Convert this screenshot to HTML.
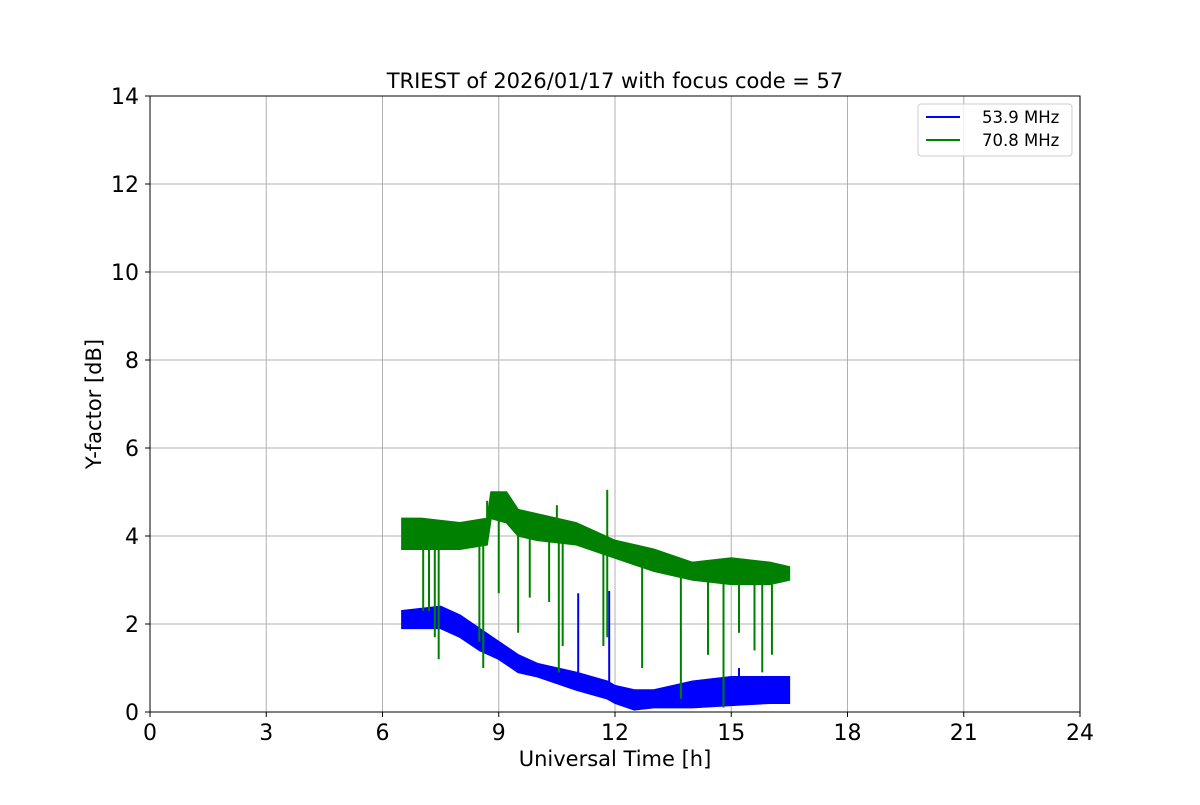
<!DOCTYPE html>
<html><head><meta charset="utf-8"><style>
body{margin:0;background:#fff}
text{font-family:"DejaVu Sans","Liberation Sans",sans-serif}
</style></head><body>
<svg id="c" width="1200" height="800" xmlns="http://www.w3.org/2000/svg">
<rect width="1200" height="800" fill="#fff"/>
<g id="grid"></g>
<g id="series"></g>
<rect x="150" y="96" width="930" height="616" fill="none" stroke="#000" stroke-width="1"/>
<g id="ticks"></g>
<text x="615" y="88" text-anchor="middle" font-size="21">TRIEST of 2026/01/17 with focus code = 57</text>
<text x="615" y="766" text-anchor="middle" font-size="21">Universal Time [h]</text>
<text x="101" y="404" text-anchor="middle" font-size="21" transform="rotate(-90 101 404)">Y-factor [dB]</text>
<g>
<rect x="918" y="104" width="154" height="52" rx="3" fill="#fff" fill-opacity="0.8" stroke="#ccc"/>
<line x1="926" y1="117" x2="960" y2="117" stroke="#0000ff" stroke-width="2"/>
<text x="982" y="123" font-size="16.5">53.9 MHz</text>
<line x1="926" y1="140" x2="960" y2="140" stroke="#008000" stroke-width="2"/>
<text x="982" y="146" font-size="16.5">70.8 MHz</text>
</g>
</svg>
<script>
const xTicks=[0,3,6,9,12,15,18,21,24];
const yTicks=[0,2,4,6,8,10,12,14];
const greenT=[6.5,7,8,8.7,8.8,9.2,9.5,10,11,12,13,14,15,16,16.5];
const greenLo=[3.7,3.7,3.7,3.8,4.4,4.3,4.0,3.9,3.8,3.5,3.2,3.0,2.9,2.9,3.0];
const greenHi=[4.4,4.4,4.3,4.4,5.0,5.0,4.6,4.5,4.3,3.9,3.7,3.4,3.5,3.4,3.3];
const greenSpikeT=[7.05,7.2,7.35,7.45,8.5,8.6,9.0,9.5,9.8,10.3,10.55,10.65,11.7,11.8,12.7,13.7,14.4,14.8,15.2,15.6,15.8,16.05,11.8,10.5,8.7];
const greenSpikeV=[2.3,2.3,1.7,1.2,1.6,1.0,2.7,1.8,2.6,2.5,0.9,1.5,1.5,1.7,1.0,0.3,1.3,0.1,1.8,1.4,0.9,1.3,5.05,4.7,4.8];
const blueT=[6.5,7.5,8,8.5,9,9.5,10,11,11.8,12,12.5,13,14,15,16,16.5];
const blueLo=[1.9,1.9,1.7,1.4,1.2,0.9,0.8,0.5,0.3,0.2,0.05,0.1,0.1,0.15,0.2,0.2];
const blueHi=[2.3,2.4,2.2,1.9,1.6,1.3,1.1,0.9,0.7,0.6,0.5,0.5,0.7,0.8,0.8,0.8];
const blueSpikeT=[11.05,11.85,15.2];
const blueSpikeV=[2.7,2.75,1.0];
const NS='http://www.w3.org/2000/svg';
const X=v=>150+v*930/24, Y=v=>712-v*616/14;
function mk(tag,attrs,parent){const e=document.createElementNS(NS,tag);for(const k in attrs)e.setAttribute(k,attrs[k]);parent.appendChild(e);return e;}
const grid=document.getElementById('grid'),ticks=document.getElementById('ticks'),ser=document.getElementById('series');
xTicks.forEach(t=>{
 const g=mk('line',{x1:X(t),x2:X(t),y1:96,y2:712,stroke:'#b0b0b0','stroke-width':1},grid);
 
 
 const tk=mk('line',{x1:X(t),x2:X(t),y1:712,y2:717,stroke:'#000'},ticks);
 
 
 const l=mk('text',{x:X(t),y:740,'text-anchor':'middle','font-size':22},ticks);l.textContent=t;
 
 
});
yTicks.forEach(t=>{
 const g=mk('line',{x1:150,x2:1080,y1:Y(t),y2:Y(t),stroke:'#b0b0b0','stroke-width':1},grid);
 
 
 const tk=mk('line',{x1:145,x2:150,y1:Y(t),y2:Y(t),stroke:'#000'},ticks);
 
 
 const l=mk('text',{x:139,y:Y(t)+8,'text-anchor':'end','font-size':22},ticks);l.textContent=t;
 
 
});
function band(T,lo,hi,col,name){
 let pts=T.map((t,i)=>X(t)+','+Y(hi[i]));
 for(let i=T.length-1;i>=0;i--)pts.push(X(T[i])+','+Y(lo[i]));
 const p=mk('polygon',{points:pts.join(' '),fill:col,stroke:col,'stroke-width':1.5},ser);
 
 
}
function interp(T,A,t){for(let i=0;i<T.length-1;i++)if(t<=T[i+1]){const f=(t-T[i])/(T[i+1]-T[i]);return A[i]+f*(A[i+1]-A[i]);}return A[A.length-1];}
function spikes(T,lo,hi,ST,SV,col,name){
 ST.forEach((t,i)=>{
  const base=SV[i]<interp(T,lo,t)?interp(T,lo,t):interp(T,hi,t);
  const l=mk('line',{x1:X(t),x2:X(t),y1:Y(base),y2:Y(SV[i]),stroke:col,'stroke-width':2},ser);
  
  
 });
}
band(blueT,blueLo,blueHi,'#0000ff','series-53-band');
spikes(blueT,blueLo,blueHi,blueSpikeT,blueSpikeV,'#0000ff','series-53-spike');
band(greenT,greenLo,greenHi,'#008000','series-70-band');
spikes(greenT,greenLo,greenHi,greenSpikeT,greenSpikeV,'#008000','series-70-spike');
</script>
</body></html>
